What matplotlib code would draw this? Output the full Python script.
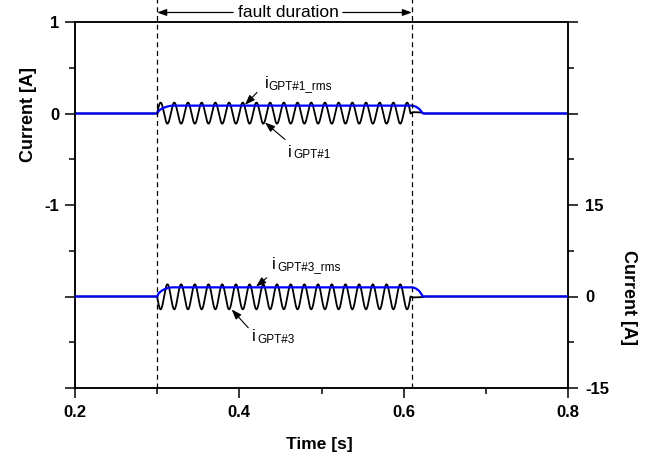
import numpy as np
import matplotlib
matplotlib.use("Agg")
import matplotlib.pyplot as plt
from matplotlib.ticker import MultipleLocator, FixedLocator, FixedFormatter

plt.rcParams['font.family'] = ['Liberation Sans', 'DejaVu Sans']

# ---- values ----
t_start, t_end = 0.20, 0.80
fault_start = 0.30          # s
fault_end = 0.61            # s (dashed marker)
freq = 60.0                 # Hz
cycles_in_fault = 18.5      # oscillation cycles until the current stops
# GPT#1 (left axis)
amp1 = 0.115
offset1 = 0.004
tail1_t = [0.6083, 0.611, 0.622, 0.625]
tail1_v = [0.0, 0.015, 0.012, 0.0]
rms1_t = [0.20, 0.300, 0.302, 0.305, 0.309, 0.313, 0.318, 0.611, 0.615, 0.619, 0.6235, 0.80]
rms1_v = [0.0, 0.0, 0.03, 0.05, 0.066, 0.078, 0.086, 0.086, 0.074, 0.050, 0.0, 0.0]
# GPT#3 (right axis)
amp3 = 2.05
offset3 = -0.05
tail3_t = [0.6083, 0.611, 0.622, 0.625]
tail3_v = [0.0, -0.15, -0.12, 0.0]
rms3_t = [0.20, 0.300, 0.302, 0.305, 0.309, 0.313, 0.318, 0.611, 0.615, 0.619, 0.6235, 0.80]
rms3_v = [0.0, 0.0, 0.55, 0.90, 1.20, 1.38, 1.50, 1.50, 1.30, 0.90, 0.0, 0.0]

left_ticks = [-3, -2, -1, 0, 1]
left_labels = ['', '', '-1', '0', '1']
right_ticks = [-15, 0, 15, 30, 45]
right_labels = ['-15', '0', '15', '', '']
x_ticks = [0.2, 0.4, 0.6, 0.8]

# ---- waveform construction ----
t = np.linspace(t_start, t_end, 12001)
t_stop = fault_start + cycles_in_fault / freq
on = (t >= fault_start) & (t <= t_stop)
phase = 2 * np.pi * freq * (t - fault_start)
i1 = np.where(on, amp1 * np.sin(phase) + offset1 * on, 0.0)
i1 = i1 + np.interp(t, tail1_t, tail1_v, left=0, right=0) * (t > t_stop)
i3 = np.where(on, -amp3 * np.sin(phase) + offset3 * on, 0.0)
i3 = i3 + np.interp(t, tail3_t, tail3_v, left=0, right=0) * (t > t_stop)

fig = plt.figure(figsize=(6.49, 4.58), dpi=100)
ax = fig.add_axes([75/649, 1-388/458, 493/649, 366/458])
ax2 = ax.twinx()

lw_sig = 1.3
ax.plot(t, i1, color='black', lw=lw_sig, zorder=3)
ax.plot(rms1_t, rms1_v, color='#0000ff', lw=1.6, zorder=4)
ax2.plot(t, i3, color='black', lw=lw_sig, zorder=3)
ax2.plot(rms3_t, rms3_v, color='#0000ff', lw=1.6, zorder=4)

ax.set_xlim(t_start, t_end)
ax.set_ylim(-3, 1)
ax2.set_ylim(-15, 45)

# dashed fault markers extend above axes
for xv in (fault_start, fault_end):
    ax.plot([xv, xv], [-3, 1.25], color='black', lw=0.9, ls=(0, (4, 3)),
            clip_on=False, zorder=5)

# fault duration arrow
yfd = 1.104
ax.text((0.3959 + 0.5225) / 2, yfd, 'fault duration', ha='center', va='center',
        fontsize=12.5, clip_on=False)
arr = dict(arrowstyle='-|>,head_length=0.55,head_width=0.2', color='black',
           lw=0.9, mutation_scale=10, shrinkA=0, shrinkB=0)
ax.annotate('', xy=(fault_start, yfd), xytext=(0.3925, yfd),
            arrowprops=arr, annotation_clip=False)
ax.annotate('', xy=(fault_end, yfd), xytext=(0.5260, yfd),
            arrowprops=arr, annotation_clip=False)

# signal labels
arr2 = dict(arrowstyle='-|>,head_length=0.6,head_width=0.22', color='black',
            lw=0.8, mutation_scale=10, shrinkA=0, shrinkB=0)

def label(a, xi, yi, xs, ys, sub, tail, head):
    a.text(xi, yi, 'i', fontsize=12, ha='left', va='baseline')
    a.text(xs, ys, sub, fontsize=8.5, ha='left', va='baseline')
    a.annotate('', xy=head, xytext=tail, arrowprops=arr2)

label(ax, 0.4312, 0.284, 0.4355, 0.268, 'GPT#1_rms', (0.4215, 0.23), (0.4069, 0.095))
label(ax, 0.4592, -0.47, 0.4653, -0.485, 'GPT#1', (0.4556, -0.284), (0.4312, -0.098))
label(ax2, 0.4397, 4.59, 0.4458, 4.35, 'GPT#3_rms', (0.4333, 3.07), (0.4203, 1.62))
label(ax2, 0.4150, -7.33, 0.4219, -7.6, 'GPT#3', (0.4109, -5.13), (0.3907, -2.13))

# ticks
ax.xaxis.set_major_locator(FixedLocator(x_ticks))
ax.xaxis.set_minor_locator(MultipleLocator(0.1))
ax.set_xticklabels([f'{v:.1f}' for v in x_ticks])
ax.yaxis.set_major_locator(FixedLocator(left_ticks))
ax.yaxis.set_major_formatter(FixedFormatter(left_labels))
ax.yaxis.set_minor_locator(MultipleLocator(0.5))
ax2.yaxis.set_major_locator(FixedLocator(right_ticks))
ax2.yaxis.set_major_formatter(FixedFormatter(right_labels))
ax2.yaxis.set_minor_locator(MultipleLocator(7.5))

for a in (ax, ax2):
    a.tick_params(which='major', direction='out', length=7, width=1.1,
                  labelsize=12)
    a.tick_params(which='minor', direction='out', length=4, width=1.1)
    for s in a.spines.values():
        s.set_linewidth(1.1)
ax.tick_params(axis='y', pad=4.5)
ax.tick_params(axis='x', pad=5.5)
ax2.tick_params(axis='y', pad=5.5)
for lab in ax.get_xticklabels() + ax.get_yticklabels() + ax2.get_yticklabels():
    lab.set_fontweight('bold')

# axis labels
fig.text(29/649, 1-114/458, 'Current [A]', rotation=90, ha='center', va='center',
         fontsize=13, fontweight='bold')
fig.text(629/649, 1-297/458, 'Current [A]', rotation=270, ha='center', va='center',
         fontsize=13, fontweight='bold')
fig.text(319/649, 1-445/458, 'Time [s]', ha='center', va='center',
         fontsize=12.5, fontweight='bold')

fig.savefig('out.png', dpi=100)
